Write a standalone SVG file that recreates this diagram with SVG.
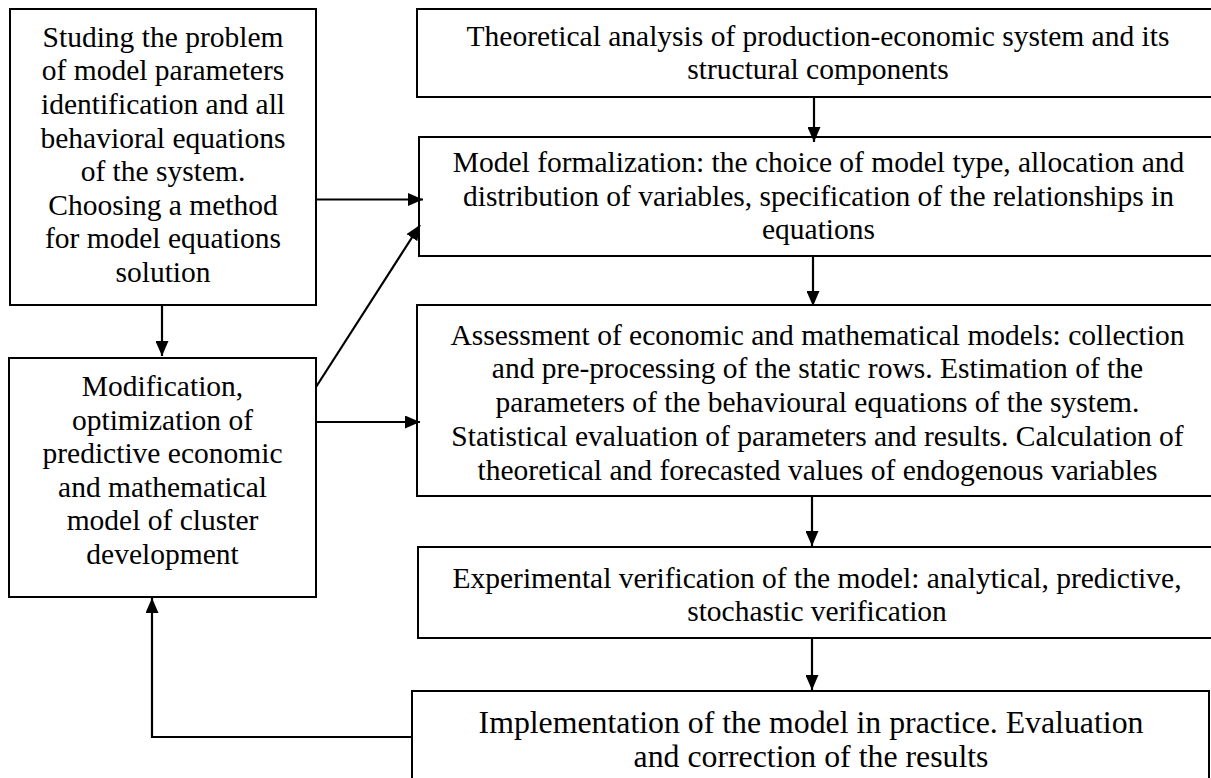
<svg xmlns="http://www.w3.org/2000/svg" width="1211" height="778" viewBox="0 0 1211 778">
<style>
  .box { fill: #fff; stroke: #000; stroke-width: 2; }
  .t { font-family: "Liberation Serif", "Times New Roman", serif; font-size: 29.5px; fill: #000; text-anchor: middle; }
  .big { font-size: 31.8px; }
  .c { fill: none; stroke: #000; stroke-width: 2.2; }
</style>
<defs>
  <marker id="ah" viewBox="0 0 15 13" refX="15" refY="6.5" markerWidth="15" markerHeight="13" markerUnits="userSpaceOnUse" orient="auto">
    <path d="M0,0 L15,6.5 L0,13 Z" fill="#000"/>
  </marker>
</defs>
<rect width="1211" height="778" fill="#fff"/>

<g id="nodeA">
  <rect class="box" x="10" y="9" width="306" height="296"/>
  <text class="t" x="163" y="46.7">Studing the problem</text>
  <text class="t" x="163" y="80.3">of model parameters</text>
  <text class="t" x="163" y="113.9">identification and all</text>
  <text class="t" x="163" y="147.5">behavioral equations</text>
  <text class="t" x="163" y="181.1">of the system.</text>
  <text class="t" x="163" y="214.7">Choosing a method</text>
  <text class="t" x="163" y="248.3">for model equations</text>
  <text class="t" x="163" y="281.9">solution</text>
</g>

<g id="nodeB">
  <rect class="box" x="9" y="358" width="307" height="239"/>
  <text class="t" x="162.5" y="396">Modification,</text>
  <text class="t" x="162.5" y="429.6">optimization of</text>
  <text class="t" x="162.5" y="463.2">predictive economic</text>
  <text class="t" x="162.5" y="496.8">and mathematical</text>
  <text class="t" x="162.5" y="530.4">model of cluster</text>
  <text class="t" x="162.5" y="564">development</text>
</g>

<g id="nodeT1">
  <rect class="box" x="417" y="9" width="803" height="88"/>
  <text class="t" x="818" y="45.5">Theoretical analysis of production-economic system and its</text>
  <text class="t" x="818" y="79">structural components</text>
</g>

<g id="nodeT2">
  <rect class="box" x="419" y="137" width="801" height="119"/>
  <text class="t" x="818.5" y="172">Model formalization: the choice of model type, allocation and</text>
  <text class="t" x="818.5" y="205.5">distribution of variables, specification of the relationships in</text>
  <text class="t" x="818.5" y="239">equations</text>
</g>

<g id="nodeT3">
  <rect class="box" x="417" y="305" width="803" height="191"/>
  <text class="t" x="817.5" y="344.5">Assessment of economic and mathematical models: collection</text>
  <text class="t" x="817.5" y="378.4">and pre-processing of the static rows. Estimation of the</text>
  <text class="t" x="817.5" y="412.3">parameters of the behavioural equations of the system.</text>
  <text class="t" x="817.5" y="446.1">Statistical evaluation of parameters and results. Calculation of</text>
  <text class="t" x="817.5" y="480">theoretical and forecasted values of endogenous variables</text>
</g>

<g id="nodeT4">
  <rect class="box" x="418" y="547" width="802" height="91"/>
  <text class="t" x="817" y="588">Experimental verification of the model: analytical, predictive,</text>
  <text class="t" x="817" y="621">stochastic verification</text>
</g>

<g id="nodeT5">
  <rect class="box" x="412" y="691" width="797" height="100"/>
  <text class="t big" x="811" y="733">Implementation of the model in practice. Evaluation</text>
  <text class="t big" x="811" y="767">and correction of the results</text>
</g>

<g id="connectors">
  <line class="c" x1="814" y1="97" x2="814" y2="142" marker-end="url(#ah)"/>
  <line class="c" x1="813" y1="256" x2="813" y2="306" marker-end="url(#ah)"/>
  <line class="c" x1="812" y1="496" x2="812" y2="546" marker-end="url(#ah)"/>
  <line class="c" x1="812" y1="638" x2="812" y2="690" marker-end="url(#ah)"/>
  <line class="c" x1="316" y1="199.5" x2="423" y2="199.5" marker-end="url(#ah)"/>
  <line class="c" x1="316" y1="387" x2="420" y2="225" marker-end="url(#ah)"/>
  <line class="c" x1="316" y1="422" x2="420" y2="422" marker-end="url(#ah)"/>
  <line class="c" x1="162" y1="305" x2="162" y2="356" marker-end="url(#ah)"/>
  <polyline class="c" points="412,737 152,737 152,598" marker-end="url(#ah)"/>
</g>
</svg>
